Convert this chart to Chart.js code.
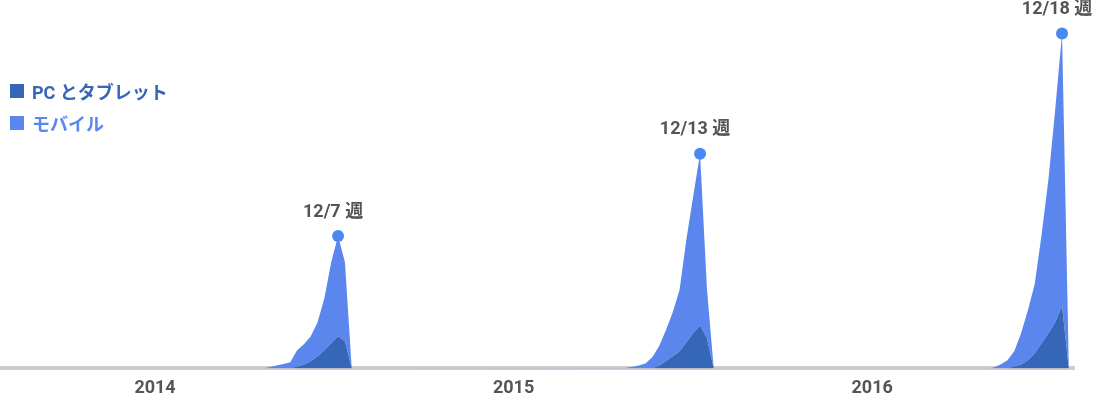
<!DOCTYPE html>
<html>
<head>
<meta charset="utf-8">
<script src="https://cdn.jsdelivr.net/npm/chart.js@4"></script>
<style>
  html, body { margin: 0; padding: 0; background: #fff; }
  .wrap { position: relative; width: 1100px; height: 414px; }
  .legend {
    position: absolute; left: 10px; top: 80px;
    font-family: Roboto, "Noto Sans CJK JP", sans-serif;
    font-weight: bold; font-size: 18px;
  }
  .legend .row { display: flex; align-items: center; height: 22px; margin-bottom: 10px; }
  .legend .box { width: 14px; height: 14px; margin-right: 8px; }
</style>
</head>
<body>
<div class="wrap">
  <canvas id="chart" width="1100" height="414"></canvas>
  <div class="legend" id="legend"></div>
</div>
<script>
// week index (0 = first week on the axis), only the holiday spikes are non-zero
const weeks = [
  38, 39, 40, 41, 42, 43, 44, 45, 46, 47, 48, 49, 50, 51,
  91, 92, 93, 94, 95, 96, 97, 98, 99, 100, 101, 102, 103, 104,
  144, 145, 146, 147, 148, 149, 150, 151, 152, 153, 154, 155, 156,
];
const pcValues = [
  0, 0, 0, 0, 0, 0.6, 1.2, 2.1, 3.6, 5.4, 7.5, 9.6, 8.1, 0,
  0, 0, 0, 0, 0, 0.9, 2.1, 3.6, 5.1, 7.8, 10.5, 12.9, 9.0, 0,
  0, 0, 0, 0, 0.6, 1.2, 2.4, 4.5, 7.5, 10.5, 13.8, 18.6, 0,
];
const mobileValues = [
  0, 0.4, 0.9, 1.3, 1.8, 4.8, 6.0, 7.5, 10.2, 15.6, 24.3, 29.9, 23.7, 0,
  0.1, 0.4, 0.9, 1.5, 3.3, 5.7, 9.3, 13.2, 18.3, 30.8, 41.0, 51.2, 15.0, 0,
  0, 0.3, 1.2, 2.4, 4.5, 9.3, 15.0, 20.7, 32.3, 45.8, 63.5, 81.4, 0,
];
const seriesNames = ["PC とタブレット", "モバイル"];
const yearLabels = ["2014", "2015", "2016"];
const yearTickWeeks = [22.2, 74.7, 127.2];
const peakWeeks = [49, 102, 155];
const peakLabels = ["12/7 週", "12/13 週", "12/18 週"];

const colors = {
  pc: "#3566b7",
  mobile: "#5a86ee",
  dot: "#4a88f2",
  text: "#555555",
  axis: "#cccccc",
};

const fontFamily = 'Roboto, "Noto Sans CJK JP", sans-serif';
Chart.defaults.font.family = fontFamily;

const toPoints = (values) => values.map((v, i) => ({ x: weeks[i], y: v }));
const peakIndexes = peakWeeks.map((w) => weeks.indexOf(w));

// labels above the peak dots
const peakLabelPlugin = {
  id: "peakLabels",
  afterDatasetsDraw(chart) {
    const meta = chart.getDatasetMeta(1);
    const ctx = chart.ctx;
    ctx.save();
    ctx.font = "bold 18px " + fontFamily;
    ctx.fillStyle = colors.text;
    ctx.textAlign = "center";
    ctx.textBaseline = "middle";
    peakIndexes.forEach((idx, i) => {
      const pt = meta.data[idx];
      ctx.fillText(peakLabels[i], pt.x - 5, pt.y - 24);
    });
    ctx.restore();
  },
};

new Chart(document.getElementById("chart"), {
  type: "line",
  data: {
    datasets: [
      {
        label: seriesNames[0],
        data: toPoints(pcValues),
        backgroundColor: colors.pc,
        borderWidth: 0,
        fill: "origin",
        pointRadius: 0,
      },
      {
        label: seriesNames[1],
        data: toPoints(mobileValues),
        backgroundColor: colors.mobile,
        borderWidth: 0,
        fill: "-1",
        pointRadius: (c) => (peakIndexes.includes(c.dataIndex) ? 6 : 0),
        pointBackgroundColor: colors.dot,
        pointBorderWidth: 0,
      },
    ],
  },
  options: {
    responsive: false,
    animation: false,
    layout: { padding: { left: 0, right: 26, top: 0, bottom: 6 } },
    elements: { line: { tension: 0 } },
    plugins: {
      legend: { display: false },
      tooltip: { enabled: false },
    },
    scales: {
      x: {
        type: "linear",
        min: -0.5,
        max: 156.75,
        grid: { display: false, drawTicks: false },
        border: { display: true, color: colors.axis, width: 4 },
        afterBuildTicks: (scale) => {
          scale.ticks = yearTickWeeks.map((v) => ({ value: v }));
        },
        ticks: {
          autoSkip: false,
          maxRotation: 0,
          padding: 9,
          color: colors.text,
          font: { size: 18, weight: "bold" },
          callback: (value, index) => yearLabels[index],
        },
      },
      y: {
        display: false,
        stacked: true,
        min: 0,
        max: 110,
      },
    },
  },
  plugins: [peakLabelPlugin],
});

// legend as html
const legend = document.getElementById("legend");
[colors.pc, colors.mobile].forEach((c, i) => {
  const row = document.createElement("div");
  row.className = "row";
  const box = document.createElement("span");
  box.className = "box";
  box.style.background = c;
  const txt = document.createElement("span");
  txt.textContent = seriesNames[i];
  txt.style.color = c;
  row.appendChild(box);
  row.appendChild(txt);
  legend.appendChild(row);
});
</script>
</body>
</html>
